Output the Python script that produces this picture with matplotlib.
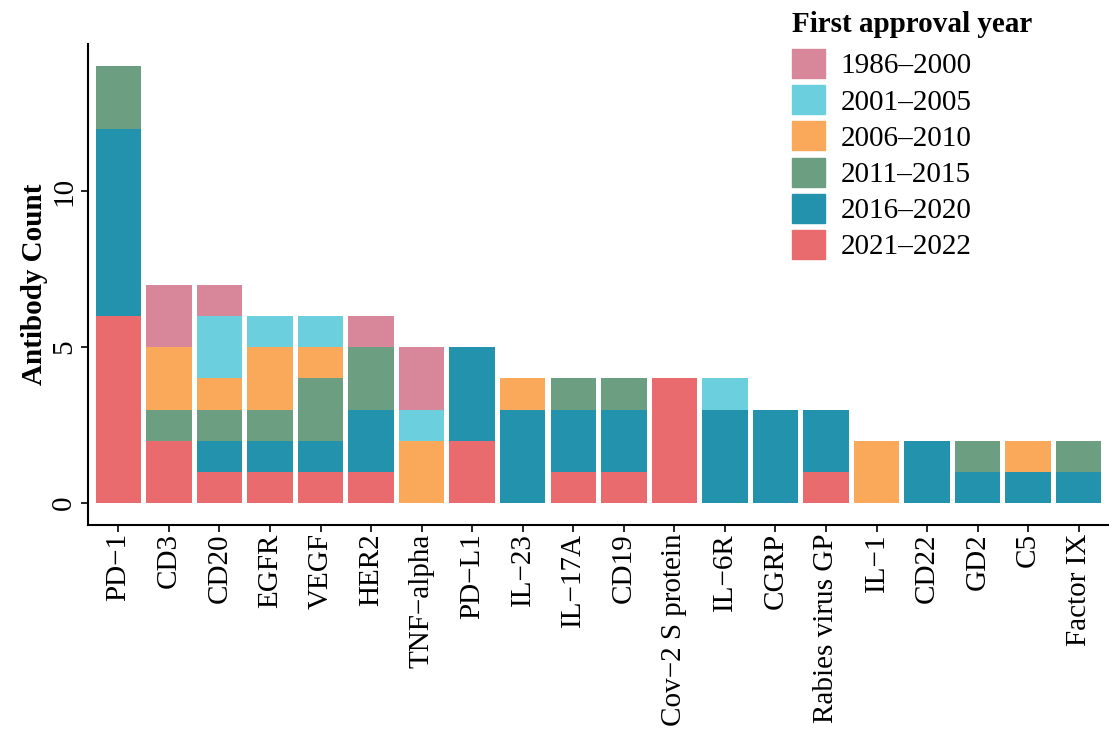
import matplotlib
matplotlib.use("Agg")
import matplotlib.pyplot as plt
import matplotlib.patches as mpatches
import numpy as np

plt.rcParams["font.family"] = ["Liberation Serif", "DejaVu Serif"]

targets = ["PD\u22121", "CD3", "CD20", "EGFR", "VEGF", "HER2", "TNF\u2212alpha",
           "PD\u2212L1", "IL\u221223", "IL\u221217A", "CD19", "Cov\u22122 S protein",
           "IL\u22126R", "CGRP", "Rabies virus GP", "IL\u22121", "CD22", "GD2",
           "C5", "Factor IX"]

periods = ["1986\u20132000", "2001\u20132005", "2006\u20132010",
           "2011\u20132015", "2016\u20132020", "2021\u20132022"]
colors = ["#D8879A", "#6CCFDE", "#FAA85A", "#6C9E82", "#2292AD", "#EA6B6E"]

# antibody counts per target for each approval period
c_1986_2000 = [0, 2, 1, 0, 0, 1, 2, 0, 0, 0, 0, 0, 0, 0, 0, 0, 0, 0, 0, 0]
c_2001_2005 = [0, 0, 2, 1, 1, 0, 1, 0, 0, 0, 0, 0, 1, 0, 0, 0, 0, 0, 0, 0]
c_2006_2010 = [0, 2, 1, 2, 1, 0, 2, 0, 1, 0, 0, 0, 0, 0, 0, 2, 0, 0, 1, 0]
c_2011_2015 = [2, 1, 1, 1, 2, 2, 0, 0, 0, 1, 1, 0, 0, 0, 0, 0, 0, 1, 0, 1]
c_2016_2020 = [6, 0, 1, 1, 1, 2, 0, 3, 3, 2, 2, 0, 3, 3, 2, 0, 2, 1, 1, 1]
c_2021_2022 = [6, 2, 1, 1, 1, 1, 0, 2, 0, 1, 1, 4, 0, 0, 1, 0, 0, 0, 0, 0]

counts = [c_1986_2000, c_2001_2005, c_2006_2010, c_2011_2015, c_2016_2020, c_2021_2022]

fig = plt.figure(figsize=(11.09, 7.34), dpi=100)
ax = fig.add_axes([0.0794, 0.2847, 0.9206, 0.655])

x = np.arange(len(targets))
bottom = np.zeros(len(targets))
# stack from the most recent period upward
for vals, col in zip(counts[::-1], colors[::-1]):
    vals = np.array(vals, dtype=float)
    ax.bar(x, vals, bottom=bottom, width=0.9, color=col, edgecolor="none")
    bottom += vals

ax.set_xlim(-0.6, len(targets) - 0.4)
ax.set_ylim(-0.7, 14.7)
ax.set_yticks([0, 5, 10])
ax.set_xticks(x)
ax.set_xticklabels(targets, rotation=90, fontsize=21)
for lbl in ax.get_yticklabels():
    lbl.set_rotation(90)
    lbl.set_va("center")
ax.tick_params(axis="y", labelsize=21, length=5, width=1.2, pad=3)
ax.tick_params(axis="x", length=5, width=1.2, pad=1)
ax.set_ylabel("Antibody Count", fontsize=21, fontweight="bold", labelpad=2)

for side in ["top", "right"]:
    ax.spines[side].set_visible(False)
ax.spines["left"].set_linewidth(1.5)
ax.spines["bottom"].set_linewidth(1.5)

handles = [mpatches.Patch(color=c, label=p) for p, c in zip(periods, colors)]
leg = fig.legend(handles=handles, title="First approval year", loc="upper left",
                 bbox_to_anchor=(0.714, 0.985), frameon=False, fontsize=21,
                 title_fontproperties={"weight": "bold", "size": 21},
                 handlelength=1.13, handleheight=1.15, labelspacing=0.2,
                 handletextpad=0.55, borderpad=0.0, borderaxespad=0.0)
leg._legend_box.align = "left"
leg._legend_box.sep = 8  # extra room between title and keys

fig.savefig("out.png", dpi=100)
